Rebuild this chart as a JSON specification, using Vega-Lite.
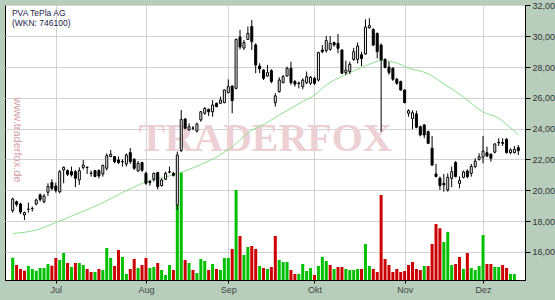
{
"$schema": "https://vega.github.io/schema/vega-lite/v6.json",
"width": 520, "height": 275,
"autosize": "none",
"padding": {"left": 5, "top": 5, "right": 30, "bottom": 20},
"background": "#b8cebd",
"config": {"view": {"fill": "#ffffff", "stroke": "#000000", "strokeWidth": 1}, "font": "Liberation Sans"},
"datasets": {
"c": [
{"i":0,"o":18.68,"h":19.52,"l":18.55,"c":19.44,"v":22300,"vd":"up"},
{"i":1,"o":19.26,"h":19.33,"l":18.94,"c":19.09,"v":15000,"vd":"down"},
{"i":2,"o":19.11,"h":19.2,"l":18.46,"c":18.59,"v":11000,"vd":"down"},
{"i":3,"o":18.4,"h":18.62,"l":18.07,"c":18.55,"v":9300,"vd":"down"},
{"i":4,"o":18.76,"h":19.2,"l":18.55,"c":18.78,"v":14000,"vd":"up"},
{"i":5,"o":18.8,"h":18.94,"l":18.62,"c":18.82,"v":11000,"vd":"up"},
{"i":6,"o":19.11,"h":19.46,"l":19.02,"c":19.37,"v":9300,"vd":"up"},
{"i":7,"o":19.7,"h":19.8,"l":19.26,"c":19.41,"v":12000,"vd":"up"},
{"i":8,"o":19.26,"h":19.76,"l":19.15,"c":19.63,"v":12000,"vd":"up"},
{"i":9,"o":19.87,"h":20.45,"l":19.63,"c":20.24,"v":16000,"vd":"up"},
{"i":10,"o":20.5,"h":20.71,"l":19.98,"c":20.13,"v":14300,"vd":"down"},
{"i":11,"o":20.28,"h":20.5,"l":19.85,"c":19.98,"v":22000,"vd":"down"},
{"i":12,"o":19.91,"h":21.32,"l":19.8,"c":21.21,"v":20000,"vd":"up"},
{"i":13,"o":21.32,"h":21.54,"l":20.45,"c":21.49,"v":27000,"vd":"up"},
{"i":14,"o":21.28,"h":21.36,"l":20.93,"c":21.04,"v":17000,"vd":"down"},
{"i":15,"o":21.21,"h":21.54,"l":20.89,"c":21.0,"v":13000,"vd":"up"},
{"i":16,"o":21.21,"h":21.32,"l":20.2,"c":20.78,"v":17000,"vd":"down"},
{"i":17,"o":20.67,"h":21.49,"l":20.35,"c":21.28,"v":17000,"vd":"up"},
{"i":18,"o":21.47,"h":21.97,"l":21.36,"c":21.64,"v":15000,"vd":"up"},
{"i":19,"o":21.48,"h":21.54,"l":21.06,"c":21.5,"v":11000,"vd":"down"},
{"i":20,"o":21.12,"h":21.28,"l":20.89,"c":21.1,"v":8000,"vd":"down"},
{"i":21,"o":21.28,"h":21.32,"l":20.85,"c":20.89,"v":8000,"vd":"up"},
{"i":22,"o":21.28,"h":21.36,"l":20.78,"c":20.93,"v":11000,"vd":"down"},
{"i":23,"o":21.06,"h":21.67,"l":20.89,"c":21.62,"v":10000,"vd":"up"},
{"i":24,"o":21.43,"h":22.4,"l":21.28,"c":22.25,"v":32000,"vd":"up"},
{"i":25,"o":22.19,"h":22.62,"l":22.14,"c":22.34,"v":22000,"vd":"up"},
{"i":26,"o":22.19,"h":22.23,"l":21.75,"c":21.86,"v":14000,"vd":"down"},
{"i":27,"o":21.97,"h":22.19,"l":21.71,"c":21.8,"v":30000,"vd":"down"},
{"i":28,"o":21.87,"h":22.01,"l":21.54,"c":21.85,"v":23000,"vd":"up"},
{"i":29,"o":21.71,"h":22.4,"l":21.54,"c":22.29,"v":6000,"vd":"up"},
{"i":30,"o":22.45,"h":22.75,"l":21.71,"c":21.86,"v":11000,"vd":"down"},
{"i":31,"o":22.01,"h":22.08,"l":21.32,"c":21.43,"v":21000,"vd":"down"},
{"i":32,"o":21.25,"h":21.9,"l":21.2,"c":21.75,"v":12000,"vd":"up"},
{"i":33,"o":21.8,"h":21.85,"l":21.2,"c":21.3,"v":15000,"vd":"down"},
{"i":34,"o":21.1,"h":21.21,"l":20.35,"c":20.45,"v":22000,"vd":"down"},
{"i":35,"o":20.56,"h":20.67,"l":20.3,"c":20.5,"v":12000,"vd":"up"},
{"i":36,"o":20.71,"h":21.15,"l":20.56,"c":21.1,"v":13000,"vd":"up"},
{"i":37,"o":21.15,"h":21.21,"l":20.06,"c":20.24,"v":17000,"vd":"down"},
{"i":38,"o":20.3,"h":20.78,"l":20.24,"c":20.67,"v":10000,"vd":"up"},
{"i":39,"o":20.71,"h":21.21,"l":20.67,"c":21.1,"v":5000,"vd":"up"},
{"i":40,"o":21.18,"h":21.54,"l":21.1,"c":21.2,"v":15000,"vd":"up"},
{"i":41,"o":21.1,"h":21.19,"l":20.89,"c":20.97,"v":10000,"vd":"down"},
{"i":42,"o":19.05,"h":22.51,"l":18.72,"c":22.29,"v":75000,"vd":"up"},
{"i":43,"o":22.57,"h":25.21,"l":22.5,"c":24.6,"v":107700,"vd":"up"},
{"i":44,"o":24.63,"h":24.67,"l":23.96,"c":24.03,"v":20000,"vd":"down"},
{"i":45,"o":23.92,"h":24.35,"l":23.87,"c":24.13,"v":17000,"vd":"up"},
{"i":46,"o":24.03,"h":24.17,"l":23.9,"c":24.05,"v":10000,"vd":"down"},
{"i":47,"o":23.85,"h":24.4,"l":23.75,"c":24.3,"v":7000,"vd":"up"},
{"i":48,"o":24.57,"h":25.15,"l":24.45,"c":25.1,"v":21000,"vd":"up"},
{"i":49,"o":25.0,"h":25.4,"l":24.9,"c":25.32,"v":19000,"vd":"up"},
{"i":50,"o":25.26,"h":25.3,"l":24.82,"c":25.1,"v":10000,"vd":"down"},
{"i":51,"o":25.1,"h":25.86,"l":24.78,"c":25.54,"v":16000,"vd":"up"},
{"i":52,"o":25.65,"h":25.7,"l":25.4,"c":25.43,"v":11000,"vd":"down"},
{"i":53,"o":25.65,"h":26.08,"l":25.6,"c":25.86,"v":10000,"vd":"up"},
{"i":54,"o":25.69,"h":26.55,"l":25.65,"c":26.51,"v":22000,"vd":"up"},
{"i":55,"o":26.34,"h":27.2,"l":26.3,"c":26.73,"v":22000,"vd":"up"},
{"i":56,"o":26.77,"h":26.8,"l":25.0,"c":25.82,"v":31000,"vd":"down"},
{"i":57,"o":26.62,"h":29.85,"l":26.55,"c":29.8,"v":90000,"vd":"up"},
{"i":58,"o":29.95,"h":30.41,"l":29.15,"c":29.3,"v":44000,"vd":"down"},
{"i":59,"o":29.24,"h":29.76,"l":29.11,"c":29.59,"v":25000,"vd":"up"},
{"i":60,"o":29.8,"h":30.63,"l":29.76,"c":30.19,"v":33000,"vd":"up"},
{"i":61,"o":30.63,"h":31.06,"l":29.11,"c":29.65,"v":34000,"vd":"down"},
{"i":62,"o":29.44,"h":29.54,"l":27.6,"c":28.14,"v":31000,"vd":"down"},
{"i":63,"o":28.07,"h":28.25,"l":27.6,"c":27.88,"v":14000,"vd":"up"},
{"i":64,"o":27.81,"h":27.86,"l":27.16,"c":27.27,"v":12000,"vd":"down"},
{"i":65,"o":27.42,"h":28.14,"l":27.38,"c":27.64,"v":11000,"vd":"up"},
{"i":66,"o":27.77,"h":27.86,"l":26.95,"c":27.06,"v":13000,"vd":"down"},
{"i":67,"o":25.69,"h":26.3,"l":25.43,"c":26.13,"v":44000,"vd":"down"},
{"i":68,"o":26.41,"h":27.34,"l":26.34,"c":27.16,"v":20000,"vd":"up"},
{"i":69,"o":26.99,"h":27.49,"l":26.95,"c":27.38,"v":18000,"vd":"up"},
{"i":70,"o":27.42,"h":28.03,"l":27.38,"c":27.92,"v":18000,"vd":"up"},
{"i":71,"o":27.92,"h":28.35,"l":26.84,"c":26.99,"v":10000,"vd":"down"},
{"i":72,"o":27.06,"h":27.16,"l":26.73,"c":26.9,"v":6000,"vd":"down"},
{"i":73,"o":26.96,"h":27.06,"l":26.62,"c":26.93,"v":6000,"vd":"up"},
{"i":74,"o":26.73,"h":27.27,"l":26.56,"c":27.16,"v":16000,"vd":"up"},
{"i":75,"o":26.99,"h":27.71,"l":26.9,"c":27.38,"v":9000,"vd":"up"},
{"i":76,"o":26.95,"h":27.42,"l":26.84,"c":27.34,"v":12000,"vd":"up"},
{"i":77,"o":27.27,"h":27.38,"l":26.84,"c":26.95,"v":5000,"vd":"down"},
{"i":78,"o":27.16,"h":29.0,"l":27.06,"c":28.94,"v":14000,"vd":"up"},
{"i":79,"o":29.11,"h":29.44,"l":28.9,"c":29.0,"v":23000,"vd":"up"},
{"i":80,"o":29.07,"h":30.02,"l":28.94,"c":29.72,"v":19000,"vd":"up"},
{"i":81,"o":29.15,"h":30.02,"l":29.07,"c":29.54,"v":15000,"vd":"down"},
{"i":82,"o":29.59,"h":29.65,"l":29.33,"c":29.44,"v":11000,"vd":"up"},
{"i":83,"o":29.54,"h":30.15,"l":28.9,"c":29.22,"v":13000,"vd":"down"},
{"i":84,"o":29.11,"h":29.15,"l":27.55,"c":27.6,"v":13000,"vd":"down"},
{"i":85,"o":27.64,"h":28.42,"l":27.49,"c":27.81,"v":11000,"vd":"up"},
{"i":86,"o":27.71,"h":28.35,"l":27.55,"c":28.18,"v":10000,"vd":"up"},
{"i":87,"o":28.5,"h":29.25,"l":28.4,"c":29.0,"v":10000,"vd":"up"},
{"i":88,"o":28.5,"h":29.6,"l":28.24,"c":29.37,"v":11000,"vd":"up"},
{"i":89,"o":28.8,"h":29.0,"l":28.05,"c":28.55,"v":11000,"vd":"down"},
{"i":90,"o":28.85,"h":31.1,"l":28.8,"c":30.6,"v":36000,"vd":"up"},
{"i":91,"o":30.55,"h":31.17,"l":30.5,"c":30.7,"v":14000,"vd":"up"},
{"i":92,"o":30.45,"h":30.52,"l":29.37,"c":29.43,"v":11000,"vd":"down"},
{"i":93,"o":30.19,"h":30.24,"l":28.57,"c":29.0,"v":8000,"vd":"down"},
{"i":94,"o":29.43,"h":29.54,"l":23.81,"c":28.46,"v":85000,"vd":"down"},
{"i":95,"o":28.5,"h":28.57,"l":27.92,"c":27.98,"v":21000,"vd":"down"},
{"i":96,"o":28.0,"h":28.35,"l":27.5,"c":27.65,"v":15000,"vd":"down"},
{"i":97,"o":27.92,"h":28.0,"l":27.1,"c":27.21,"v":8000,"vd":"down"},
{"i":98,"o":27.21,"h":27.3,"l":26.85,"c":26.95,"v":11000,"vd":"down"},
{"i":99,"o":27.06,"h":27.12,"l":26.47,"c":26.51,"v":8000,"vd":"down"},
{"i":100,"o":26.51,"h":26.55,"l":25.65,"c":25.69,"v":9000,"vd":"down"},
{"i":101,"o":25.0,"h":25.26,"l":24.78,"c":25.17,"v":15000,"vd":"down"},
{"i":102,"o":24.65,"h":25.2,"l":23.96,"c":25.04,"v":18000,"vd":"down"},
{"i":103,"o":24.96,"h":25.17,"l":24.03,"c":24.09,"v":11000,"vd":"down"},
{"i":104,"o":24.13,"h":24.2,"l":23.5,"c":23.59,"v":10000,"vd":"down"},
{"i":105,"o":24.24,"h":24.31,"l":23.38,"c":23.59,"v":14000,"vd":"up"},
{"i":106,"o":23.81,"h":23.87,"l":23.0,"c":23.05,"v":14000,"vd":"down"},
{"i":107,"o":22.73,"h":23.53,"l":21.58,"c":21.64,"v":36000,"vd":"down"},
{"i":108,"o":21.06,"h":21.71,"l":20.84,"c":20.89,"v":56000,"vd":"down"},
{"i":109,"o":20.78,"h":20.89,"l":20.02,"c":20.3,"v":51700,"vd":"down"},
{"i":110,"o":20.45,"h":21.06,"l":19.91,"c":20.35,"v":38000,"vd":"up"},
{"i":111,"o":20.02,"h":21.1,"l":19.91,"c":20.84,"v":48000,"vd":"up"},
{"i":112,"o":20.78,"h":21.54,"l":20.2,"c":21.21,"v":15000,"vd":"up"},
{"i":113,"o":21.8,"h":21.9,"l":20.84,"c":20.89,"v":16000,"vd":"down"},
{"i":114,"o":20.45,"h":20.89,"l":20.13,"c":20.63,"v":23000,"vd":"down"},
{"i":115,"o":20.84,"h":21.28,"l":20.78,"c":21.19,"v":11000,"vd":"up"},
{"i":116,"o":21.25,"h":21.36,"l":20.78,"c":20.89,"v":27000,"vd":"down"},
{"i":117,"o":21.1,"h":21.71,"l":20.89,"c":21.54,"v":12000,"vd":"up"},
{"i":118,"o":21.54,"h":22.08,"l":21.43,"c":21.9,"v":10000,"vd":"up"},
{"i":119,"o":22.01,"h":22.4,"l":21.93,"c":22.18,"v":14000,"vd":"up"},
{"i":120,"o":22.14,"h":23.53,"l":21.75,"c":22.55,"v":45000,"vd":"up"},
{"i":121,"o":22.44,"h":22.83,"l":22.14,"c":22.23,"v":16000,"vd":"down"},
{"i":122,"o":22.34,"h":22.4,"l":21.86,"c":22.08,"v":16000,"vd":"down"},
{"i":123,"o":22.47,"h":23.05,"l":22.4,"c":23.01,"v":13000,"vd":"up"},
{"i":124,"o":23.12,"h":23.38,"l":22.88,"c":23.08,"v":13000,"vd":"up"},
{"i":125,"o":23.1,"h":23.38,"l":22.88,"c":23.05,"v":15000,"vd":"down"},
{"i":126,"o":23.31,"h":23.38,"l":22.4,"c":22.44,"v":12000,"vd":"down"},
{"i":127,"o":22.44,"h":22.73,"l":22.34,"c":22.62,"v":6000,"vd":"up"},
{"i":128,"o":22.44,"h":22.88,"l":22.4,"c":22.66,"v":6000,"vd":"up"},
{"i":129,"o":22.77,"h":22.94,"l":22.29,"c":22.57}
],
"ma": [
{"i":0,"v":17.2},{"i":6,"v":17.42},{"i":10.6,"v":17.86},{"i":14.7,"v":18.29},{"i":19.8,"v":18.83},{"i":23,"v":19.2},{"i":28,"v":19.85},{"i":33,"v":20.45},{"i":43.1,"v":21.17},{"i":55.6,"v":22.75},{"i":61.4,"v":23.96},{"i":63.1,"v":24.15},{"i":68.1,"v":24.9},{"i":73.9,"v":25.75},{"i":77.1,"v":26.2},{"i":79.8,"v":26.8},{"i":84.8,"v":27.49},{"i":90.6,"v":28.14},{"i":93.9,"v":28.42},{"i":98.2,"v":28.25},{"i":100.7,"v":27.96},{"i":105.7,"v":27.6},{"i":109.8,"v":26.95},{"i":114.9,"v":26.08},{"i":119.9,"v":25.1},{"i":124,"v":24.68},{"i":126.5,"v":24.18},{"i":129,"v":23.6}
]
},
"resolve": {"scale": {"y": "independent"}},
"layer": [
{
"data": {"values": [{"t": "TRADERFOX"}]},
"mark": {"type": "text", "font": "Liberation Serif", "fontWeight": "bold", "fontSize": 40, "fill": "#ecd0d3", "align": "center", "baseline": "alphabetic"},
"encoding": {
"x": {"datum": 64.4, "type": "quantitative", "scale": {"domain": [-0.686, 129.43], "nice": false, "zero": false}, "axis": {"values": [11,34,55,77,100,120], "labelExpr": "['Jul','Aug','Sep','Okt','Nov','Dez'][indexof([11,34,55,77,100,120], datum.value)]", "title": null, "grid": true, "gridColor": "#d3d3d3", "tickSize": 3, "tickColor": "#000", "domainColor": "#000", "labelColor": "#444", "labelFontSize": 9, "labelPadding": 2, "labelFlush": false}},
"y": {"datum": 22.55, "type": "quantitative", "scale": {"domain": [14.175, 32.032], "nice": false, "zero": false}, "axis": null},
"text": {"field": "t"}
}
},
{
"data": {"values": [{"t": "www.traderfox.de"}]},
"mark": {"type": "text", "font": "Liberation Sans", "fontSize": 11, "fill": "#d6a0a6", "align": "center", "baseline": "middle", "angle": 90},
"encoding": {
"x": {"datum": 1.19, "type": "quantitative", "scale": {"domain": [-0.686, 129.43], "nice": false, "zero": false}, "axis": {"values": [11,34,55,77,100,120], "labelExpr": "['Jul','Aug','Sep','Okt','Nov','Dez'][indexof([11,34,55,77,100,120], datum.value)]", "title": null, "grid": true, "gridColor": "#d3d3d3", "tickSize": 3, "tickColor": "#000", "domainColor": "#000", "labelColor": "#444", "labelFontSize": 9, "labelPadding": 2, "labelFlush": false}},
"y": {"datum": 23.27, "type": "quantitative", "scale": {"domain": [14.175, 32.032], "nice": false, "zero": false}, "axis": null},
"text": {"field": "t"}
}
},
{
"data": {"name": "c"},
"mark": {"type": "bar", "size": 3},
"encoding": {
"x": {"field": "i", "type": "quantitative", "scale": {"domain": [-0.686, 129.43], "nice": false, "zero": false}, "axis": {"values": [11,34,55,77,100,120], "labelExpr": "['Jul','Aug','Sep','Okt','Nov','Dez'][indexof([11,34,55,77,100,120], datum.value)]", "title": null, "grid": true, "gridColor": "#d3d3d3", "tickSize": 3, "tickColor": "#000", "domainColor": "#000", "labelColor": "#444", "labelFontSize": 9, "labelPadding": 2, "labelFlush": false}},
"y": {"field": "v", "type": "quantitative", "scale": {"domain": [0, 275000], "nice": false}, "axis": null},
"color": {"field": "vd", "type": "nominal", "scale": {"domain": ["up", "down"], "range": ["#00c000", "#cc0000"]}, "legend": null}
}
},
{
"data": {"name": "ma"},
"mark": {"type": "line", "color": "#8ee08e", "strokeWidth": 1, "interpolate": "monotone"},
"encoding": {
"x": {"field": "i", "type": "quantitative", "scale": {"domain": [-0.686, 129.43], "nice": false, "zero": false}, "axis": {"values": [11,34,55,77,100,120], "labelExpr": "['Jul','Aug','Sep','Okt','Nov','Dez'][indexof([11,34,55,77,100,120], datum.value)]", "title": null, "grid": true, "gridColor": "#d3d3d3", "tickSize": 3, "tickColor": "#000", "domainColor": "#000", "labelColor": "#444", "labelFontSize": 9, "labelPadding": 2, "labelFlush": false}},
"y": {"field": "v", "type": "quantitative", "scale": {"domain": [14.175, 32.032], "nice": false, "zero": false}, "axis": null}
}
},
{
"data": {"name": "c"},
"mark": {"type": "rule", "color": "#000", "strokeWidth": 1},
"encoding": {
"x": {"field": "i", "type": "quantitative", "scale": {"domain": [-0.686, 129.43], "nice": false, "zero": false}, "axis": {"values": [11,34,55,77,100,120], "labelExpr": "['Jul','Aug','Sep','Okt','Nov','Dez'][indexof([11,34,55,77,100,120], datum.value)]", "title": null, "grid": true, "gridColor": "#d3d3d3", "tickSize": 3, "tickColor": "#000", "domainColor": "#000", "labelColor": "#444", "labelFontSize": 9, "labelPadding": 2, "labelFlush": false}},
"y": {"field": "l", "type": "quantitative", "scale": {"domain": [14.175, 32.032], "nice": false, "zero": false}, "axis": {"orient": "right", "values": [16,18,20,22,24,26,28,30,32], "labelExpr": "replace(format(datum.value, '.2f'), '.', ',')", "title": null, "grid": true, "gridColor": "#d3d3d3", "tickSize": 5, "tickColor": "#000", "domainColor": "#000", "labelColor": "#333", "labelFontSize": 9, "labelPadding": 2}},
"y2": {"field": "h"}
}
},
{
"data": {"name": "c"},
"mark": {"type": "bar", "size": 2, "stroke": "#000", "strokeWidth": 1},
"encoding": {
"x": {"field": "i", "type": "quantitative", "scale": {"domain": [-0.686, 129.43], "nice": false, "zero": false}, "axis": {"values": [11,34,55,77,100,120], "labelExpr": "['Jul','Aug','Sep','Okt','Nov','Dez'][indexof([11,34,55,77,100,120], datum.value)]", "title": null, "grid": true, "gridColor": "#d3d3d3", "tickSize": 3, "tickColor": "#000", "domainColor": "#000", "labelColor": "#444", "labelFontSize": 9, "labelPadding": 2, "labelFlush": false}},
"y": {"field": "o", "type": "quantitative", "scale": {"domain": [14.175, 32.032], "nice": false, "zero": false}, "axis": null},
"y2": {"field": "c"},
"fill": {"condition": {"test": "datum.c >= datum.o", "value": "#ffffff"}, "value": "#000000"}
}
},
{
"data": {"values": [{"t": "PVA TePla AG\n(WKN: 746100)"}]},
"mark": {"type": "text", "font": "Liberation Sans", "fontSize": 8.5, "fill": "#23234a", "align": "left", "baseline": "top", "lineBreak": "\n", "lineHeight": 9.5},
"encoding": {
"x": {"datum": -0.19, "type": "quantitative", "scale": {"domain": [-0.686, 129.43], "nice": false, "zero": false}, "axis": {"values": [11,34,55,77,100,120], "labelExpr": "['Jul','Aug','Sep','Okt','Nov','Dez'][indexof([11,34,55,77,100,120], datum.value)]", "title": null, "grid": true, "gridColor": "#d3d3d3", "tickSize": 3, "tickColor": "#000", "domainColor": "#000", "labelColor": "#444", "labelFontSize": 9, "labelPadding": 2, "labelFlush": false}},
"y": {"datum": 31.77, "type": "quantitative", "scale": {"domain": [14.175, 32.032], "nice": false, "zero": false}, "axis": null},
"text": {"field": "t"}
}
}
]
}
